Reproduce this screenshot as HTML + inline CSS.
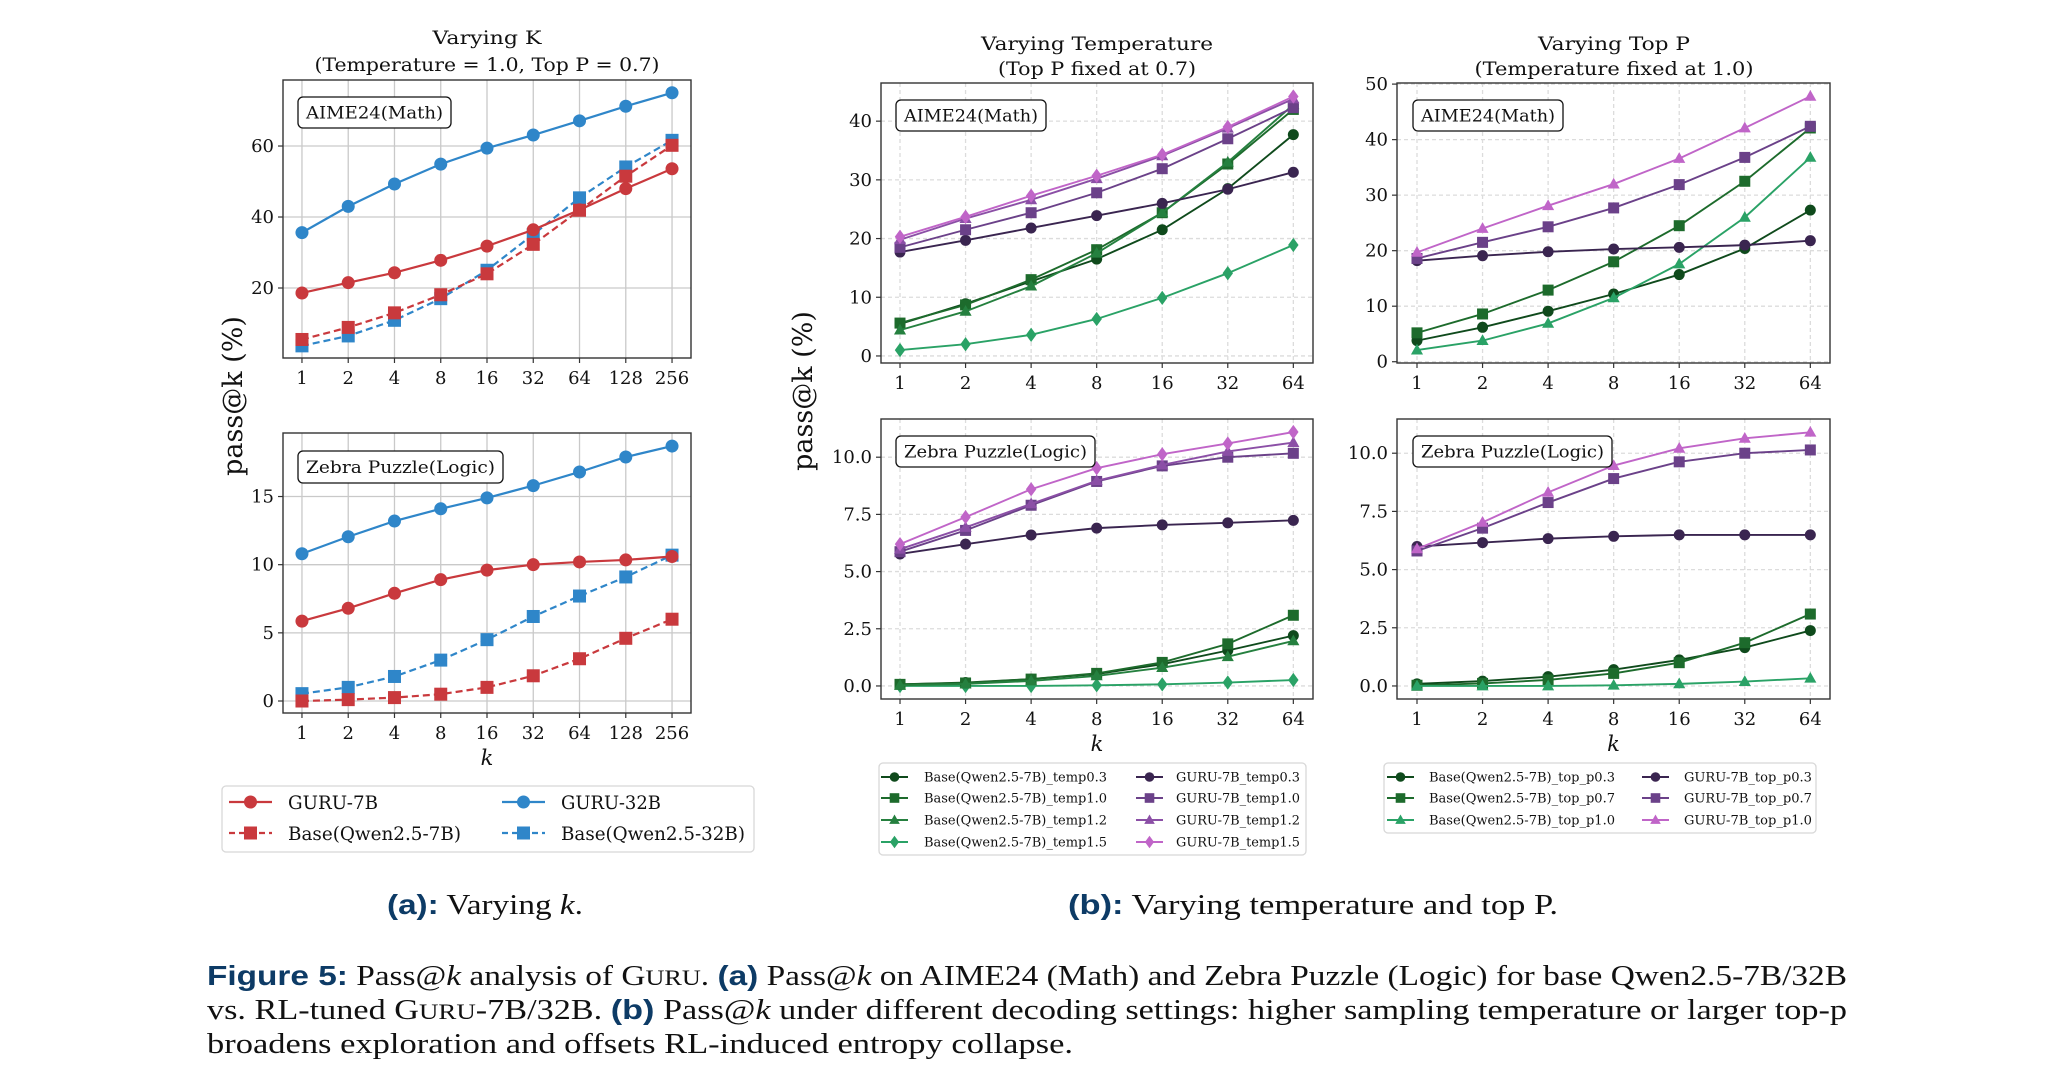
<!DOCTYPE html>
<html><head><meta charset="utf-8">
<style>
html,body{margin:0;padding:0;background:#fff;}
svg{display:block;}
text{font-family:"DejaVu Serif","Liberation Serif",serif;fill:#111;}
.cap{font-family:"Liberation Serif",serif;}
.capb{font-family:"Liberation Sans",sans-serif;font-weight:bold;fill:#0d3b66;}
</style></head>
<body>
<svg id="fig" width="2052" height="1090" viewBox="0 0 2052 1090" xmlns="http://www.w3.org/2000/svg"></svg>
<script>
// ---- data ----
const kLeft = ['1','2','4','8','16','32','64','128','256'];
const kRight = ['1','2','4','8','16','32','64'];
// (a) AIME24
const aimeGuru32 = [35.6,43.0,49.3,54.9,59.4,63.1,67.1,71.2,75.0];
const aimeGuru7 = [18.6,21.5,24.3,27.8,31.8,36.4,42.0,48.0,53.6];
const aimeBase7 = [5.5,8.9,13.0,18.1,24.0,32.3,41.9,51.5,60.2];
const aimeBase32 = [3.7,6.5,10.9,17.0,25.0,35.1,45.4,54.1,61.6];
// (a) Zebra
const zebraGuru32 = [10.8,12.05,13.2,14.1,14.9,15.8,16.8,17.9,18.7];
const zebraGuru7 = [5.86,6.8,7.9,8.9,9.6,10.0,10.2,10.35,10.6];
const zebraBase7 = [0.0,0.1,0.25,0.5,1.0,1.85,3.1,4.6,6.0];
const zebraBase32 = [0.54,1.0,1.8,3.0,4.5,6.2,7.7,9.1,10.7];
// (b) temperature, AIME
const tAimeBase03 = [5.45,8.9,12.7,16.5,21.5,28.5,37.7];
const tAimeBase10 = [5.6,8.7,13.0,18.1,24.4,32.7,42.0];
const tAimeBase12 = [4.4,7.6,11.9,17.5,24.4,33.0,42.8];
const tAimeBase15 = [1.0,2.0,3.6,6.3,9.9,14.1,18.9];
const tAimeGuru03 = [17.7,19.7,21.8,23.9,26.0,28.4,31.3];
const tAimeGuru10 = [18.5,21.5,24.4,27.8,31.9,37.0,42.3];
const tAimeGuru12 = [19.8,23.4,26.6,30.2,34.1,38.8,43.8];
const tAimeGuru15 = [20.3,23.7,27.3,30.7,34.3,39.0,44.2];
// (b) temperature, Zebra
const tZebBase03 = [0.07,0.15,0.3,0.52,0.95,1.55,2.2];
const tZebBase10 = [0.07,0.13,0.3,0.55,1.03,1.84,3.09];
const tZebBase12 = [0.03,0.09,0.22,0.44,0.8,1.28,1.97];
const tZebBase15 = [0.0,0.0,0.0,0.03,0.07,0.15,0.26];
const tZebGuru03 = [5.77,6.2,6.6,6.9,7.04,7.13,7.24];
const tZebGuru10 = [5.87,6.8,7.9,8.94,9.62,10.0,10.17];
const tZebGuru12 = [5.98,6.93,7.96,8.97,9.66,10.25,10.64];
const tZebGuru15 = [6.2,7.38,8.6,9.52,10.13,10.6,11.1];
// (b) top-p, AIME
const pAimeBase03 = [3.8,6.2,9.1,12.2,15.7,20.4,27.3];
const pAimeBase07 = [5.2,8.6,12.9,18.0,24.5,32.5,42.1];
const pAimeBase10 = [2.1,3.8,6.9,11.5,17.6,26.0,36.8];
const pAimeGuru03 = [18.2,19.1,19.8,20.3,20.6,21.0,21.8];
const pAimeGuru07 = [18.6,21.5,24.3,27.7,31.9,36.8,42.4];
const pAimeGuru10 = [19.7,24.0,28.1,32.0,36.6,42.1,47.8];
// (b) top-p, Zebra
const pZebBase03 = [0.09,0.21,0.4,0.7,1.12,1.65,2.38];
const pZebBase07 = [0.03,0.11,0.26,0.54,1.0,1.86,3.09];
const pZebBase10 = [0.0,0.0,0.0,0.03,0.09,0.19,0.33];
const pZebGuru03 = [5.99,6.16,6.33,6.43,6.49,6.49,6.49];
const pZebGuru07 = [5.8,6.78,7.88,8.91,9.63,10.0,10.14];
const pZebGuru10 = [5.89,7.03,8.32,9.47,10.21,10.64,10.9];
// tick labels
const ticksAimeK = [20,40,60];
const ticksZebK = [0,5,10,15];
const ticksAimeT = [0,10,20,30,40];
const ticksAimeP = [0,10,20,30,40,50];
const ticksZebB = [0,2.5,5,7.5,10];

const NS = 'http://www.w3.org/2000/svg';
const svg = document.getElementById('fig');
function el(tag, attrs, parent){
  const e = document.createElementNS(NS, tag);
  for (const k in attrs) e.setAttribute(k, attrs[k]);
  (parent||svg).appendChild(e);
  return e;
}
function txt(str, attrs, parent){
  const t = el('text', attrs, parent);
  t.textContent = str;
  return t;
}

const C = {red:'#c9393d', blue:'#2f86c9',
  g03:'#0f4a1c', g10:'#1d6b2c', g12:'#25803f', g15:'#2aa266',
  p03:'#3a2550', p10:'#6b4189', p12:'#8b4fa6', p15:'#c065c8'};

function marker(g, type, x, y, color, s){
  let m;
  if (type==='circle') m = el('circle',{cx:x,cy:y,r:s,fill:color},g);
  else if (type==='square') m = el('rect',{x:x-s,y:y-s,width:2*s,height:2*s,fill:color},g);
  else if (type==='triangle') m = el('polygon',{points:`${x},${y-s*1.15} ${x-s*1.1},${y+s*0.8} ${x+s*1.1},${y+s*0.8}`,fill:color},g);
  else m = el('polygon',{points:`${x},${y-s*1.3} ${x+s*0.95},${y} ${x},${y+s*1.3} ${x-s*0.95},${y}`,fill:color},g);
  return m;
}

function panel(cfg){
  const g = el('g',{});
  
  
  const sx = i => cfg.x0 + (i - cfg.xmin)/(cfg.xmax-cfg.xmin)*(cfg.x1-cfg.x0);
  const sy = v => cfg.y1 - (v - cfg.ymin)/(cfg.ymax-cfg.ymin)*(cfg.y1-cfg.y0);
  const dash = cfg.dashedGrid ? '4,3' : 'none';
  const gc = cfg.dashedGrid ? '#dcdcdc' : '#c9c9c9';
  cfg.cats.forEach((c,i)=>{
    const l = el('line',{x1:sx(i),x2:sx(i),y1:cfg.y0,y2:cfg.y1,stroke:gc,'stroke-width':1.3,'stroke-dasharray':dash},g);
    
    
  });
  cfg.ticks.forEach(v=>{
    const l = el('line',{x1:cfg.x0,x2:cfg.x1,y1:sy(v),y2:sy(v),stroke:gc,'stroke-width':1.3,'stroke-dasharray':dash},g);
    
    
  });
  cfg.series.forEach(s=>{
    const sg = el('g',{},g);
    
    
    const pts = s.values.map((v,i)=>sx(i)+','+sy(v)).join(' ');
    const pl = el('polyline',{points:pts,fill:'none',stroke:s.color,'stroke-width':cfg.lw,'stroke-dasharray':s.dash||'none'},sg);
    
    
    s.values.forEach((v,i)=>{
      const m = marker(sg, s.marker, sx(i), sy(v), s.color, cfg.ms);
      
      
    });
  });
  const fr = el('rect',{x:cfg.x0,y:cfg.y0,width:cfg.x1-cfg.x0,height:cfg.y1-cfg.y0,fill:'none',stroke:'#333','stroke-width':1.4},g);
  
  
  cfg.cats.forEach((c,i)=>{
    const t = txt(c,{x:sx(i),y:cfg.y1+26,'text-anchor':'middle','font-size':18},g);
    
    
    el('line',{x1:sx(i),x2:sx(i),y1:cfg.y1,y2:cfg.y1+5,stroke:'#333','stroke-width':1.2},g);
  });
  cfg.ticks.forEach(v=>{
    const lab = cfg.fmt ? v.toFixed(1) : String(v);
    const t = txt(lab,{x:cfg.x0-9,y:sy(v)+6,'text-anchor':'end','font-size':18},g);
    
    
    el('line',{x1:cfg.x0-5,x2:cfg.x0,y1:sy(v),y2:sy(v),stroke:'#333','stroke-width':1.2},g);
  });
  const bx = el('rect',{x:cfg.box[0],y:cfg.box[1],width:cfg.box[2],height:cfg.box[3],rx:5,fill:'#fff',stroke:'#111','stroke-width':1.3},g);
  
  
  const bt = txt(cfg.label,{x:cfg.box[0]+cfg.box[2]/2,y:cfg.box[1]+cfg.box[3]/2+6,'text-anchor':'middle','font-size':17,textLength:cfg.box[2]-16,lengthAdjust:'spacingAndGlyphs'},g);
  
  
  if (cfg.xlabel){
    const xl = txt('k',{x:(cfg.x0+cfg.x1)/2,y:cfg.y1+52,'text-anchor':'middle','font-size':21,'font-style':'italic','font-family':'DejaVu Sans, sans-serif'},g);
    
    
  }
}

const LX = {x0:283,x1:691,xmin:-0.41,xmax:8.41,lw:2.2,ms:6.5,dashedGrid:false,cats:kLeft};
panel(Object.assign({},LX,{name:'aime-varying-k',y0:80,y1:358,ymin:0.28,ymax:78.6,ticks:ticksAimeK,
  label:'AIME24(Math)',box:[298,97,153,31],
  series:[
    {name:'guru-32b',values:aimeGuru32,color:C.blue,marker:'circle'},
    {name:'base-qwen-32b',values:aimeBase32,color:C.blue,marker:'square',dash:'7,4'},
    {name:'base-qwen-7b',values:aimeBase7,color:C.red,marker:'square',dash:'7,4'},
    {name:'guru-7b',values:aimeGuru7,color:C.red,marker:'circle'}]}));
panel(Object.assign({},LX,{name:'zebra-varying-k',y0:433,y1:713,ymin:-0.88,ymax:19.66,ticks:ticksZebK,xlabel:true,
  label:'Zebra Puzzle(Logic)',box:[298,451,205,32],
  series:[
    {name:'guru-32b',values:zebraGuru32,color:C.blue,marker:'circle'},
    {name:'base-qwen-32b',values:zebraBase32,color:C.blue,marker:'square',dash:'7,4'},
    {name:'base-qwen-7b',values:zebraBase7,color:C.red,marker:'square',dash:'7,4'},
    {name:'guru-7b',values:zebraGuru7,color:C.red,marker:'circle'}]}));

const MX = {x0:881,x1:1313,xmin:-0.29,xmax:6.3,lw:1.9,ms:5.5,dashedGrid:true,cats:kRight};
const RX = {x0:1397,x1:1830,xmin:-0.305,xmax:6.3,lw:1.9,ms:5.5,dashedGrid:true,cats:kRight};
panel(Object.assign({},MX,{name:'aime-varying-temperature',y0:83,y1:363,ymin:-1.2,ymax:46.5,ticks:ticksAimeT,
  label:'AIME24(Math)',box:[896,100,150,31],
  series:[
    {name:'base-temp1.5',values:tAimeBase15,color:C.g15,marker:'diamond'},
    {name:'base-temp0.3',values:tAimeBase03,color:C.g03,marker:'circle'},
    {name:'base-temp1.0',values:tAimeBase10,color:C.g10,marker:'square'},
    {name:'base-temp1.2',values:tAimeBase12,color:C.g12,marker:'triangle'},
    {name:'guru-temp0.3',values:tAimeGuru03,color:C.p03,marker:'circle'},
    {name:'guru-temp1.0',values:tAimeGuru10,color:C.p10,marker:'square'},
    {name:'guru-temp1.2',values:tAimeGuru12,color:C.p12,marker:'triangle'},
    {name:'guru-temp1.5',values:tAimeGuru15,color:C.p15,marker:'diamond'}]}));
panel(Object.assign({},MX,{name:'zebra-varying-temperature',y0:419,y1:699,ymin:-0.57,ymax:11.67,ticks:ticksZebB,fmt:true,xlabel:true,
  label:'Zebra Puzzle(Logic)',box:[896,436,199,31],
  series:[
    {name:'base-temp1.5',values:tZebBase15,color:C.g15,marker:'diamond'},
    {name:'base-temp0.3',values:tZebBase03,color:C.g03,marker:'circle'},
    {name:'base-temp1.0',values:tZebBase10,color:C.g10,marker:'square'},
    {name:'base-temp1.2',values:tZebBase12,color:C.g12,marker:'triangle'},
    {name:'guru-temp0.3',values:tZebGuru03,color:C.p03,marker:'circle'},
    {name:'guru-temp1.0',values:tZebGuru10,color:C.p10,marker:'square'},
    {name:'guru-temp1.2',values:tZebGuru12,color:C.p12,marker:'triangle'},
    {name:'guru-temp1.5',values:tZebGuru15,color:C.p15,marker:'diamond'}]}));
panel(Object.assign({},RX,{name:'aime-varying-top-p',y0:83,y1:363,ymin:-0.23,ymax:50.2,ticks:ticksAimeP,
  label:'AIME24(Math)',box:[1413,100,150,31],
  series:[
    {name:'base-top-p0.3',values:pAimeBase03,color:C.g03,marker:'circle'},
    {name:'base-top-p0.7',values:pAimeBase07,color:C.g10,marker:'square'},
    {name:'base-top-p1.0',values:pAimeBase10,color:C.g15,marker:'triangle'},
    {name:'guru-top-p0.3',values:pAimeGuru03,color:C.p03,marker:'circle'},
    {name:'guru-top-p0.7',values:pAimeGuru07,color:C.p10,marker:'square'},
    {name:'guru-top-p1.0',values:pAimeGuru10,color:C.p15,marker:'triangle'}]}));
panel(Object.assign({},RX,{name:'zebra-varying-top-p',y0:419,y1:699,ymin:-0.56,ymax:11.47,ticks:ticksZebB,fmt:true,xlabel:true,
  label:'Zebra Puzzle(Logic)',box:[1413,436,199,31],
  series:[
    {name:'base-top-p0.3',values:pZebBase03,color:C.g03,marker:'circle'},
    {name:'base-top-p0.7',values:pZebBase07,color:C.g10,marker:'square'},
    {name:'base-top-p1.0',values:pZebBase10,color:C.g15,marker:'triangle'},
    {name:'guru-top-p0.3',values:pZebGuru03,color:C.p03,marker:'circle'},
    {name:'guru-top-p0.7',values:pZebGuru07,color:C.p10,marker:'square'},
    {name:'guru-top-p1.0',values:pZebGuru10,color:C.p15,marker:'triangle'}]}));

function title(str, x, y, w, name){
  const t = txt(str,{x:x,y:y,'text-anchor':'middle','font-size':19,textLength:w,lengthAdjust:'spacingAndGlyphs'});
  
  
}
title('Varying K',487,44,109,'title-varying-k');
title('(Temperature = 1.0, Top P = 0.7)',487,71,345,'subtitle-varying-k');
title('Varying Temperature',1097,50,232,'title-varying-temperature');
title('(Top P fixed at 0.7)',1097,75,198,'subtitle-varying-temperature');
title('Varying Top P',1614,50,152,'title-varying-top-p');
title('(Temperature fixed at 1.0)',1614,75,279,'subtitle-varying-top-p');

const yl1 = txt('pass@k (%)',{x:0,y:0,'text-anchor':'middle','font-size':27,transform:'translate(242,396) rotate(-90)'});


const yl2 = txt('pass@k (%)',{x:0,y:0,'text-anchor':'middle','font-size':27,transform:'translate(812,391) rotate(-90)'});



function legend(name, box, entries, fs, lw, ms){
  const g = el('g',{});
  
  
  el('rect',{x:box[0],y:box[1],width:box[2],height:box[3],rx:4,fill:'#fff',stroke:'#d8d8d8','stroke-width':1.3},g);
  entries.forEach(e=>{
    const eg = el('g',{},g);
    
    
    el('line',{x1:e.hx,x2:e.hx+e.hw,y1:e.y,y2:e.y,stroke:e.color,'stroke-width':lw,'stroke-dasharray':e.dash||'none'},eg);
    marker(eg,e.marker,e.hx+e.hw/2,e.y,e.color,ms);
    txt(e.label,{x:e.tx,y:e.y+fs*0.36,'font-size':fs,textLength:e.tw,lengthAdjust:'spacingAndGlyphs'},eg);
  });
}
legend('legend-a',[222,786,532,66],[
  {label:'GURU-7B',color:C.red,marker:'circle',hx:229,hw:43,y:802,tx:288,tw:90},
  {label:'Base(Qwen2.5-7B)',color:C.red,marker:'square',dash:'6,4',hx:229,hw:43,y:833,tx:288,tw:173},
  {label:'GURU-32B',color:C.blue,marker:'circle',hx:502,hw:43,y:802,tx:561,tw:100},
  {label:'Base(Qwen2.5-32B)',color:C.blue,marker:'square',dash:'6,4',hx:502,hw:43,y:833,tx:561,tw:184}],19,2.2,6.5);
const rowsB=[777,798,820,842];
legend('legend-temperature',[879,763,427,92],[
  {label:'Base(Qwen2.5-7B)_temp0.3',color:C.g03,marker:'circle',hx:881,hw:27,y:rowsB[0],tx:924,tw:183},
  {label:'Base(Qwen2.5-7B)_temp1.0',color:C.g10,marker:'square',hx:881,hw:27,y:rowsB[1],tx:924,tw:183},
  {label:'Base(Qwen2.5-7B)_temp1.2',color:C.g12,marker:'triangle',hx:881,hw:27,y:rowsB[2],tx:924,tw:183},
  {label:'Base(Qwen2.5-7B)_temp1.5',color:C.g15,marker:'diamond',hx:881,hw:27,y:rowsB[3],tx:924,tw:183},
  {label:'GURU-7B_temp0.3',color:C.p03,marker:'circle',hx:1136,hw:27,y:rowsB[0],tx:1176,tw:124},
  {label:'GURU-7B_temp1.0',color:C.p10,marker:'square',hx:1136,hw:27,y:rowsB[1],tx:1176,tw:124},
  {label:'GURU-7B_temp1.2',color:C.p12,marker:'triangle',hx:1136,hw:27,y:rowsB[2],tx:1176,tw:124},
  {label:'GURU-7B_temp1.5',color:C.p15,marker:'diamond',hx:1136,hw:27,y:rowsB[3],tx:1176,tw:124}],13,1.9,4.8);
legend('legend-top-p',[1384,763,432,70],[
  {label:'Base(Qwen2.5-7B)_top_p0.3',color:C.g03,marker:'circle',hx:1387,hw:27,y:rowsB[0],tx:1429,tw:186},
  {label:'Base(Qwen2.5-7B)_top_p0.7',color:C.g10,marker:'square',hx:1387,hw:27,y:rowsB[1],tx:1429,tw:186},
  {label:'Base(Qwen2.5-7B)_top_p1.0',color:C.g15,marker:'triangle',hx:1387,hw:27,y:rowsB[2],tx:1429,tw:186},
  {label:'GURU-7B_top_p0.3',color:C.p03,marker:'circle',hx:1642,hw:27,y:rowsB[0],tx:1684,tw:128},
  {label:'GURU-7B_top_p0.7',color:C.p10,marker:'square',hx:1642,hw:27,y:rowsB[1],tx:1684,tw:128},
  {label:'GURU-7B_top_p1.0',color:C.p15,marker:'triangle',hx:1642,hw:27,y:rowsB[2],tx:1684,tw:128}],13,1.9,4.8);
</script>
<svg style="position:absolute;left:0;top:0" width="2052" height="1090">
  <text x="387" y="914" font-size="28" class="cap" textLength="196" lengthAdjust="spacingAndGlyphs"><tspan class="capb">(a):</tspan> Varying <tspan font-style="italic">k</tspan>.</text>
  <text x="1068" y="914" font-size="28" class="cap" textLength="490" lengthAdjust="spacingAndGlyphs"><tspan class="capb">(b):</tspan> Varying temperature and top P.</text>
  <text x="207" y="985" font-size="28" class="cap" textLength="1640" lengthAdjust="spacingAndGlyphs"><tspan class="capb">Figure 5:</tspan> Pass@<tspan font-style="italic">k</tspan> analysis of G<tspan font-size="22">URU</tspan>. <tspan class="capb">(a)</tspan> Pass@<tspan font-style="italic">k</tspan> on AIME24 (Math) and Zebra Puzzle (Logic) for base Qwen2.5-7B/32B</text>
  <text x="207" y="1019" font-size="28" class="cap" textLength="1640" lengthAdjust="spacingAndGlyphs">vs. RL-tuned G<tspan font-size="22">URU</tspan>-7B/32B. <tspan class="capb">(b)</tspan> Pass@<tspan font-style="italic">k</tspan> under different decoding settings: higher sampling temperature or larger top-p</text>
  <text x="207" y="1053" font-size="28" class="cap" textLength="866" lengthAdjust="spacingAndGlyphs">broadens exploration and offsets RL-induced entropy collapse.</text>
</svg>
</body></html>
